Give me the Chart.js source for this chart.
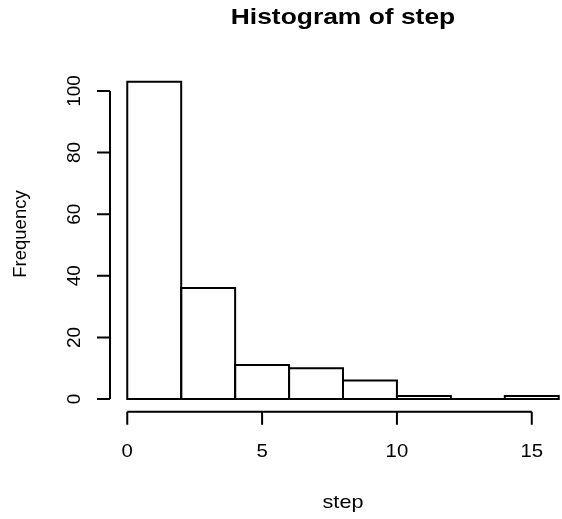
<!DOCTYPE html>
<html>
<head>
<meta charset="utf-8">
<script src="https://cdn.jsdelivr.net/npm/chart.js@4"></script>
<style>
  html, body { margin: 0; padding: 0; background: #fff; overflow: hidden; }
  canvas { display: block; }
</style>
</head>
<body>
<canvas id="histChart" width="600" height="519"></canvas>
<script>
// Histogram bins (breaks every 2 units) and their counts
const binStarts = [0, 2, 4, 6, 8, 10, 12, 14];
const binWidth = 2;
const counts = [103, 36, 11, 10, 6, 1, 0, 1];

// Axis ticks
const xTicks = [0, 5, 10, 15];
const yTicks = [0, 20, 40, 60, 80, 100];

const titleText = 'Histogram of step';
const xLabel = 'step';
const yLabel = 'Frequency';

const FONT = '"Liberation Sans", Arial, Helvetica, sans-serif';

// R style 4% extension of the data range
const xLo = binStarts[0], xHi = binStarts[binStarts.length - 1] + binWidth;
const yLo = 0, yHi = Math.max(...counts);
const xPad = 0.04 * (xHi - xLo), yPad = 0.04 * (yHi - yLo);

// text helper, sx stretches the text horizontally (the reference is a bit wide)
function drawText(ctx, str, x, y, sx, rot) {
  ctx.save();
  ctx.translate(x, y);
  if (rot) ctx.rotate(rot);
  ctx.scale(sx, 1);
  ctx.fillText(str, 0, 0);
  ctx.restore();
}

// Outlines each bar like R's rect(): centred 2px stroke, shared edges overlap
const barOutline = {
  id: 'barOutline',
  afterDatasetsDraw(chart) {
    const { ctx } = chart;
    ctx.save();
    ctx.strokeStyle = '#000';
    ctx.lineWidth = 2;
    chart.getDatasetMeta(0).data.forEach(bar => {
      const { x, y, base, width } = bar.getProps(['x', 'y', 'base', 'width'], true);
      ctx.beginPath();
      ctx.rect(x - width / 2, y, width, base - y);
      ctx.stroke();
    });
    ctx.restore();
  }
};

// Draws R-like axes, title and labels
const rAxes = {
  id: 'rAxes',
  afterDraw(chart) {
    const { ctx, chartArea } = chart;
    const xs = chart.scales.x, ys = chart.scales.y;
    const tick = 13;
    ctx.save();
    ctx.strokeStyle = '#000';
    ctx.fillStyle = '#000';
    ctx.lineWidth = 2;

    // x axis
    const yAx = chartArea.bottom;
    ctx.beginPath();
    ctx.moveTo(xs.getPixelForValue(xTicks[0]), yAx);
    ctx.lineTo(xs.getPixelForValue(xTicks[xTicks.length - 1]), yAx);
    xTicks.forEach(v => {
      const px = xs.getPixelForValue(v);
      ctx.moveTo(px, yAx);
      ctx.lineTo(px, yAx + tick);
    });
    ctx.stroke();

    ctx.font = '18.5px ' + FONT;
    ctx.textAlign = 'center';
    ctx.textBaseline = 'alphabetic';
    xTicks.forEach(v => drawText(ctx, String(v), xs.getPixelForValue(v), 456.5, 1.1));

    // y axis
    const xAx = chartArea.left;
    ctx.beginPath();
    ctx.moveTo(xAx, ys.getPixelForValue(yTicks[0]));
    ctx.lineTo(xAx, ys.getPixelForValue(yTicks[yTicks.length - 1]));
    yTicks.forEach(v => {
      const py = ys.getPixelForValue(v);
      ctx.moveTo(xAx, py);
      ctx.lineTo(xAx - tick, py);
    });
    ctx.stroke();

    ctx.font = '19px ' + FONT;
    yTicks.forEach(v => drawText(ctx, String(v), 80, ys.getPixelForValue(v), 1, -Math.PI / 2));

    // axis titles
    const midX = (chartArea.left + chartArea.right) / 2;
    ctx.font = '18.5px ' + FONT;
    drawText(ctx, xLabel, midX, 507.5, 1.17);
    drawText(ctx, yLabel, 26, 234, 1, -Math.PI / 2);

    // main title
    ctx.font = 'bold 22px ' + FONT;
    drawText(ctx, titleText, midX, 24, 1.2);
    ctx.restore();
  }
};

const ctx = document.getElementById('histChart').getContext('2d');
new Chart(ctx, {
  type: 'bar',
  data: {
    datasets: [{
      data: binStarts.map((s, i) => ({ x: s + binWidth / 2, y: counts[i] })),
      backgroundColor: '#ffffff',
      borderWidth: 0,
      inflateAmount: 0,
      barPercentage: 1,
      categoryPercentage: 1
    }]
  },
  options: {
    responsive: false,
    animation: false,
    events: [],
    layout: { padding: { left: 110, right: 24, top: 69, bottom: 107.3 } },
    plugins: { legend: { display: false }, tooltip: { enabled: false } },
    scales: {
      x: { type: 'linear', display: false, offset: false, min: xLo - xPad, max: xHi + xPad },
      y: { type: 'linear', display: false, min: yLo - yPad, max: yHi + yPad }
    }
  },
  plugins: [barOutline, rAxes]
});
</script>
</body>
</html>
